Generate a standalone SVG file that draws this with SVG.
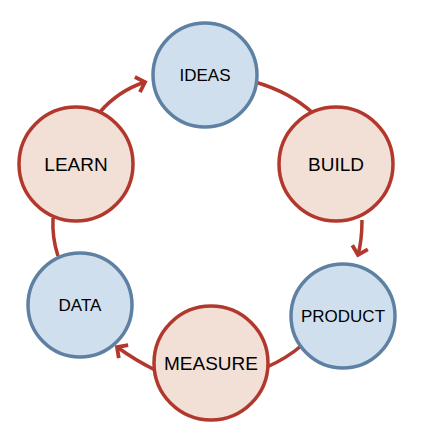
<svg xmlns="http://www.w3.org/2000/svg" width="426" height="444" viewBox="0 0 426 444">
  <defs>
    <marker id="chev" markerUnits="userSpaceOnUse" markerWidth="24" markerHeight="24" viewBox="-12 -12 24 24" refX="0" refY="0" orient="auto" overflow="visible">
      <path d="M-8,-8 L0,0 L-8,8" fill="none" stroke="#B2372C" stroke-width="3.8" stroke-linejoin="miter"/>
    </marker>
    <style>
      .conn { fill: none; stroke: #B2372C; stroke-width: 3.5; }
      .arrow { marker-end: url(#chev); }
      .blue { fill: #CFDFED; stroke: #5E81A3; stroke-width: 3.5; }
      .red { fill: #F2DFD6; stroke: #B2372C; stroke-width: 3.5; }
      text { font-family: "Liberation Sans", Arial, sans-serif; fill: #000; text-anchor: middle; dominant-baseline: central; }
      .sm { font-size: 17px; }
      .lg { font-size: 19px; }
    </style>
  </defs>
  <rect width="426" height="444" fill="#FFFFFF"/>
  <g id="connectors">
    <path class="conn" d="M255,82 Q290,92 314,114"/>
    <path class="conn arrow" d="M362,220 Q362,240 358,255"/>
    <path class="conn" d="M301,346 Q287,358 267,367"/>
    <path class="conn arrow" d="M155,370 Q135,360 117,347"/>
    <path class="conn" d="M58,256 Q52,238 53,218"/>
    <path class="conn arrow" d="M100,112 Q118,91 145,82"/>
  </g>
  <g id="ideas">
    <circle class="blue" cx="205" cy="75" r="52"/>
    <text class="sm" x="205" y="75">IDEAS</text>
  </g>
  <g id="build">
    <circle class="red" cx="336" cy="164" r="57"/>
    <text class="lg" x="336" y="164">BUILD</text>
  </g>
  <g id="product">
    <circle class="blue" cx="343" cy="316" r="52"/>
    <text class="sm" x="343" y="316">PRODUCT</text>
  </g>
  <g id="measure">
    <circle class="red" cx="211" cy="363" r="57"/>
    <text class="lg" x="211" y="363">MEASURE</text>
  </g>
  <g id="data">
    <circle class="blue" cx="80" cy="305" r="52"/>
    <text class="sm" x="80" y="305">DATA</text>
  </g>
  <g id="learn">
    <circle class="red" cx="76" cy="164" r="57"/>
    <text class="lg" x="76" y="164">LEARN</text>
  </g>
</svg>
